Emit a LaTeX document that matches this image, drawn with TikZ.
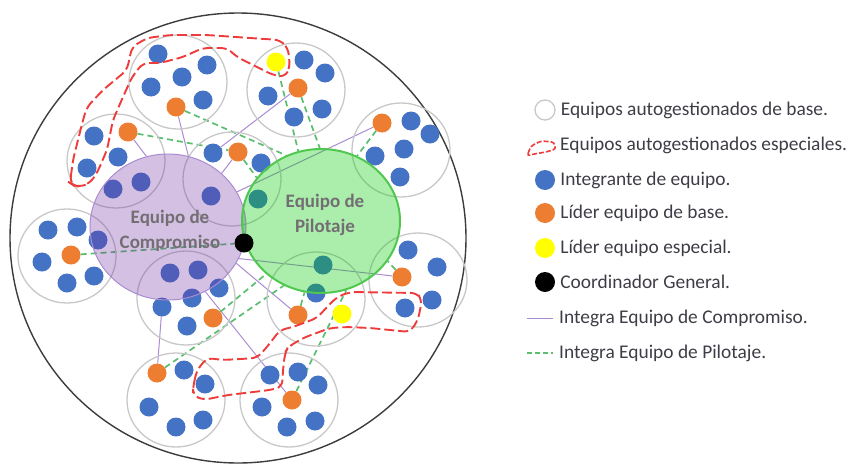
\documentclass[tikz,border=0pt]{standalone}
\usepackage{fontspec}
\setmainfont{Carlito}
\usetikzlibrary{shapes.geometric,positioning}
\pgfdeclarelayer{bg}
\pgfsetlayers{bg,main}
\definecolor{cBlue}{RGB}{68,114,196}
\definecolor{cOrange}{RGB}{237,125,49}
\definecolor{cYellow}{RGB}{255,255,0}
\definecolor{cPurple}{RGB}{112,48,160}
\definecolor{cPurpleLine}{RGB}{170,140,210}
\definecolor{cGreen}{RGB}{0,200,0}
\definecolor{cGreenEdge}{RGB}{80,200,80}
\definecolor{cGreenLine}{RGB}{90,190,110}
\definecolor{cRed}{RGB}{238,60,60}
\definecolor{cRing}{RGB}{200,200,200}
\definecolor{cDark}{RGB}{60,60,60}
\definecolor{cTitle}{RGB}{115,110,115}
\definecolor{cText}{RGB}{64,60,70}

\begin{document}
\begin{tikzpicture}[x=1pt,y=-1pt,
    every node/.style={inner sep=0pt},
    team/.style={ellipse,draw=cRing,line width=1.3pt,minimum width=98,minimum height=94},
    mem/.style={circle,fill=cBlue,minimum size=19},
    lead/.style={circle,fill=cOrange,minimum size=19},
    spec/.style={circle,fill=cYellow,minimum size=19},
    boss/.style={circle,fill=black,minimum size=19},
    comp/.style={ellipse,draw=cPurpleLine,line width=1pt,fill=cPurple,fill opacity=0.3,minimum width=156,minimum height=146},
    pilot/.style={ellipse,draw=cGreenEdge,line width=2pt,fill=cGreen,fill opacity=0.33,minimum width=158,minimum height=144},
    title/.style={font=\bfseries\fontsize{19}{25}\selectfont,text=cTitle,align=center},
    cline/.style={draw=cPurpleLine,line width=1pt},
    pline/.style={draw=cGreenLine,line width=1.7pt,dash pattern=on 6pt off 4pt},
    special/.style={draw=cRed,line width=1.9pt,dash pattern=on 10pt off 4pt,rounded corners=6pt},
    legtext/.style={font=\fontsize{19.4}{22}\selectfont,text=cText}
]
\useasboundingbox (0,0) rectangle (851,466);

% Organisation
\node[ellipse,draw=cDark,line width=1.4pt,minimum width=456,minimum height=450] (org) at (238,238) {};

% Base teams
\node[team] (tA) at (178,82) {};
\node[team] (tB) at (296,90) {};
\node[team] (tC) at (116,161) {};
\node[team] (tD) at (232,179) {};
\node[team] (tE) at (401,150) {};
\node[team] (tF) at (67,256) {};
\node[team] (tG) at (186,298) {};
\node[team] (tH) at (316,299) {};
\node[team] (tI) at (418,280) {};
\node[team] (tJ) at (176,400) {};
\node[team] (tK) at (289,400) {};

% Members
\node[mem] (a1) at (158,54) {};
\node[mem] (a2) at (207,65) {};
\node[mem] (a3) at (182,77) {};
\node[mem] (a4) at (151,87) {};
\node[mem] (a5) at (203,100) {};
\node[lead] (aL) at (176,107) {};

\node[spec] (bS) at (276,62) {};
\node[mem] (b1) at (304,60) {};
\node[mem] (b2) at (325,73) {};
\node[lead] (bL) at (298,88) {};
\node[mem] (b3) at (268,96) {};
\node[mem] (b4) at (294,117) {};
\node[mem] (b5) at (322,109) {};

\node[mem] (c1) at (94,136) {};
\node[lead] (cL) at (128,132) {};
\node[mem] (c2) at (118,157) {};
\node[mem] (c3) at (87,168) {};
\node[mem] (c4) at (113,189) {};
\node[mem] (c5) at (141,182) {};

\node[mem] (d1) at (213,153) {};
\node[lead] (dL) at (238,152) {};
\node[mem] (d2) at (261,163) {};
\node[mem] (d3) at (211,196) {};
\node[mem] (d4) at (258,199) {};

\node[lead] (eL) at (382,123) {};
\node[mem] (e1) at (411,121) {};
\node[mem] (e2) at (430,134) {};
\node[mem] (e3) at (375,156) {};
\node[mem] (e4) at (404,149) {};
\node[mem] (e5) at (400,177) {};

\node[mem] (f1) at (48,230) {};
\node[mem] (f2) at (77,227) {};
\node[mem] (f3) at (98,240) {};
\node[lead] (fL) at (71,255) {};
\node[mem] (f4) at (42,262) {};
\node[mem] (f5) at (67,283) {};
\node[mem] (f6) at (94,276) {};

\node[mem] (g1) at (170,273) {};
\node[mem] (g2) at (198,270) {};
\node[mem] (g3) at (192,298) {};
\node[mem] (g4) at (219,288) {};
\node[mem] (g5) at (162,307) {};
\node[lead] (gL) at (213,318) {};
\node[mem] (g6) at (187,326) {};

\node[mem] (h1) at (323,265) {};
\node[mem] (h2) at (316,293) {};
\node[lead] (hL) at (298,315) {};
\node[spec] (hS) at (342,314) {};

\node[mem] (i1) at (408,250) {};
\node[mem] (i2) at (437,267) {};
\node[lead] (iL) at (402,277) {};
\node[mem] (i3) at (432,300) {};
\node[mem] (i4) at (405,308) {};

\node[lead] (jL) at (157,373) {};
\node[mem] (j1) at (184,370) {};
\node[mem] (j2) at (205,384) {};
\node[mem] (j3) at (149,407) {};
\node[mem] (j4) at (176,427) {};
\node[mem] (j5) at (203,420) {};

\node[mem] (k1) at (270,375) {};
\node[mem] (k2) at (298,372) {};
\node[mem] (k3) at (318,385) {};
\node[lead] (kL) at (292,400) {};
\node[mem] (k4) at (262,407) {};
\node[mem] (k5) at (287,427) {};
\node[mem] (k6) at (315,421) {};

% Commitment and steering teams
\node[comp] (comp) at (168,227) {};
\node[pilot] (pilot) at (321,221) {};
\node[boss] (boss) at (244,243) {};
\node[title] (compT) at (170,231) {Equipo de\\Compromiso};
\node[title] (pilotT) at (325,215) {Equipo de\\Pilotaje};

% Connections
\begin{pgfonlayer}{bg}
\draw[cline] (aL) -- (comp.74);
\draw[cline] (bL) -- (d1);
\draw[cline] (cL) -- (comp.107);
\draw[cline] (dL) -- (comp.45);
\draw[cline] (eL) -- (comp.27);
\draw[cline] (comp.332) -- (hL);
\draw[cline] (comp.336) -- (iL);
\draw[cline] (comp.300) -- (kL);
\draw[cline] (g5) -- (jL);

\draw[pline] (aL) -- (pilot.118);
\draw[pline] (bS) -- (pilot.108);
\draw[pline] (bL) -- (pilot.91);
\draw[pline] (cL) -- (dL);
\draw[pline] (dL) -- (pilot.146);
\draw[pline] (eL) -- (pilot.61);
\draw[pline] (fL) -- (boss);
\draw[pline] (gL) -- (pilot.224);
\draw[pline] (jL) -- (pilot.240);
\draw[pline] (hL) -- (pilot.257);
\draw[pline] (kL) -- (pilot.290);
\draw[pline] (iL) -- (pilot.329);
\end{pgfonlayer}

% Special teams
\draw[special] (70,183) -- (73,160) -- (83,120) -- (87,107) -- (103,90) -- (127,70)
  -- (132,47) -- (147,38) -- (170,35) -- (207,35) -- (250,38) -- (280,40) -- (288,48)
  -- (290,67) -- (285,77) -- (273,75) -- (257,67) -- (237,57) -- (227,48) -- (203,48)
  -- (183,57) -- (160,63) -- (143,63) -- (132,77) -- (123,97) -- (113,120) -- (107,150)
  -- (97,173) -- (90,183) -- (80,187) -- (73,185) -- cycle;
\draw[special] (193,387) -- (197,370) -- (207,358) -- (223,360) -- (257,358) -- (267,347)
  -- (280,330) -- (293,327) -- (317,318) -- (327,307) -- (337,297) -- (350,292) -- (417,293)
  -- (422,300) -- (418,320) -- (410,332) -- (370,328) -- (347,327) -- (330,328) -- (303,338)
  -- (288,347) -- (285,353) -- (283,370) -- (282,387) -- (270,390) -- (228,395) -- (203,400)
  -- (193,395) -- cycle;

% Legend
\node[circle,draw=cRing,line width=1.3pt,minimum size=20] (lgBase) at (545,110) {};
\node[legtext,right=5pt of lgBase] (txBase) {Equipos autogestionados de base.};
\coordinate (lgSpec) at (556,145);
\draw[special,line width=1.6pt,rounded corners=3pt,dash pattern=on 5pt off 2pt] (527,156) -- (531,146) -- (541,141) -- (554,142) -- (556,149) -- (546,152) -- (534,154) -- cycle;
\node[legtext,right=4pt of lgSpec] (txSpec) {Equipos autogestionados especiales.};
\node[mem,minimum size=20] (lgMem) at (545,180) {};
\node[legtext,right=5pt of lgMem] (txMem) {Integrante de equipo.};
\node[lead,minimum size=20] (lgLead) at (545,213) {};
\node[legtext,right=5pt of lgLead] (txLead) {Líder equipo de base.};
\node[spec,minimum size=20] (lgSpecL) at (545,248) {};
\node[legtext,right=5pt of lgSpecL] (txSpecL) {Líder equipo especial.};
\node[boss,minimum size=20] (lgBoss) at (545,282) {};
\node[legtext,right=5pt of lgBoss] (txBoss) {Coordinador General.};
\coordinate (lgCa) at (527,318);
\coordinate (lgCb) at (553,318);
\draw[cline] (lgCa) -- (lgCb);
\node[legtext,right=6pt of lgCb] (txComp) {Integra Equipo de Compromiso.};
\coordinate (lgPa) at (527,353);
\coordinate (lgPb) at (553,353);
\draw[pline,dash pattern=on 5pt off 3pt] (lgPa) -- (lgPb);
\node[legtext,right=6pt of lgPb] (txPilot) {Integra Equipo de Pilotaje.};

\end{tikzpicture}
\end{document}
